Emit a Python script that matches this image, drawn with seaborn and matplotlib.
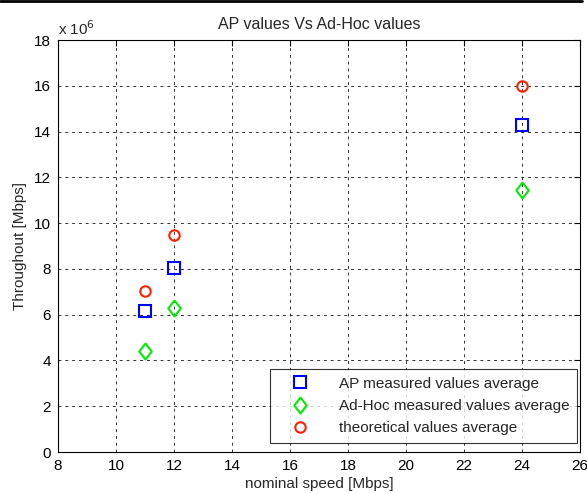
import numpy as np
import pandas as pd
import matplotlib
matplotlib.use('Agg')
import matplotlib.pyplot as plt
import seaborn as sns

# nominal speeds and throughput averages (in units of 1e6)
speeds = [11, 12, 24]
ap_values = [6.17, 8.03, 14.28]
adhoc_values = [4.41, 6.29, 11.44]
theory_values = [7.03, 9.48, 16.0]

labels = ['AP measured values average',
          'Ad-Hoc measured values average',
          'theoretical values average']

sns.set_style('white')
plt.rcParams['font.family'] = ['Liberation Sans', 'DejaVu Sans']
plt.rcParams['font.size'] = 11

df = pd.DataFrame({
    'speed': speeds * 3,
    'throughput': np.array(ap_values + adhoc_values + theory_values) * 1e6,
    'series': [labels[0]] * 3 + [labels[1]] * 3 + [labels[2]] * 3,
})

fig = plt.figure(figsize=(5.87, 4.94), dpi=100)
ax = fig.add_axes([0.099, 0.085, 0.889, 0.834])

# thin black line along the top edge, like the screenshot
fig.add_artist(plt.Line2D([0, 0.992], [0.998, 0.998], color='black',
                          linewidth=2, transform=fig.transFigure))

diamond = [(0, 1), (0.78, 0), (0, -1), (-0.78, 0), (0, 1)]
styles = {labels[0]: ('s', '#0000ff', 8),
          labels[1]: (diamond, '#00ee00', 11.5),
          labels[2]: ('o', '#ff2000', 7.5)}

for name in labels:
    m, c, s = styles[name]
    sub = df[df['series'] == name]
    ax.plot(sub['speed'], sub['throughput'], linestyle='none', marker=m,
            markersize=s, markerfacecolor='none', markeredgecolor=c,
            markeredgewidth=1.5, label=name)

ax.set_xlim(8, 26)
ax.set_ylim(0, 18e6)
ax.set_xticks(np.arange(8, 27, 2))
ax.set_yticks(np.arange(0, 19, 2) * 1e6)
ax.set_yticklabels([str(v) for v in range(0, 19, 2)])
ax.text(0.0, 1.005, r'x 10$^6$', transform=ax.transAxes, ha='left',
        va='bottom', fontsize=11)

ax.grid(True, color='black', linestyle=(0, (3, 4)), linewidth=0.7, alpha=0.8)
ax.tick_params(direction='in', length=4, width=0.8, top=True, right=True,
               labelsize=11, colors='black', pad=5)
for sp in ax.spines.values():
    sp.set_color('black')
    sp.set_linewidth(0.8)

ax.set_title('AP values Vs Ad-Hoc values', fontsize=11.5, pad=8)
ax.set_xlabel('nominal speed [Mbps]', fontsize=11, labelpad=3)
ax.set_ylabel('Throughout [Mbps]', fontsize=11, labelpad=5)

leg = ax.legend(loc='lower right', bbox_to_anchor=(0.994, 0.022),
                borderaxespad=0, fontsize=11,
                frameon=True, fancybox=False, edgecolor='black',
                borderpad=0.5, handletextpad=1.1, labelspacing=0.55,
                handlelength=2.9)
leg.get_frame().set_linewidth(0.8)

fig.savefig('out.png', dpi=100)
